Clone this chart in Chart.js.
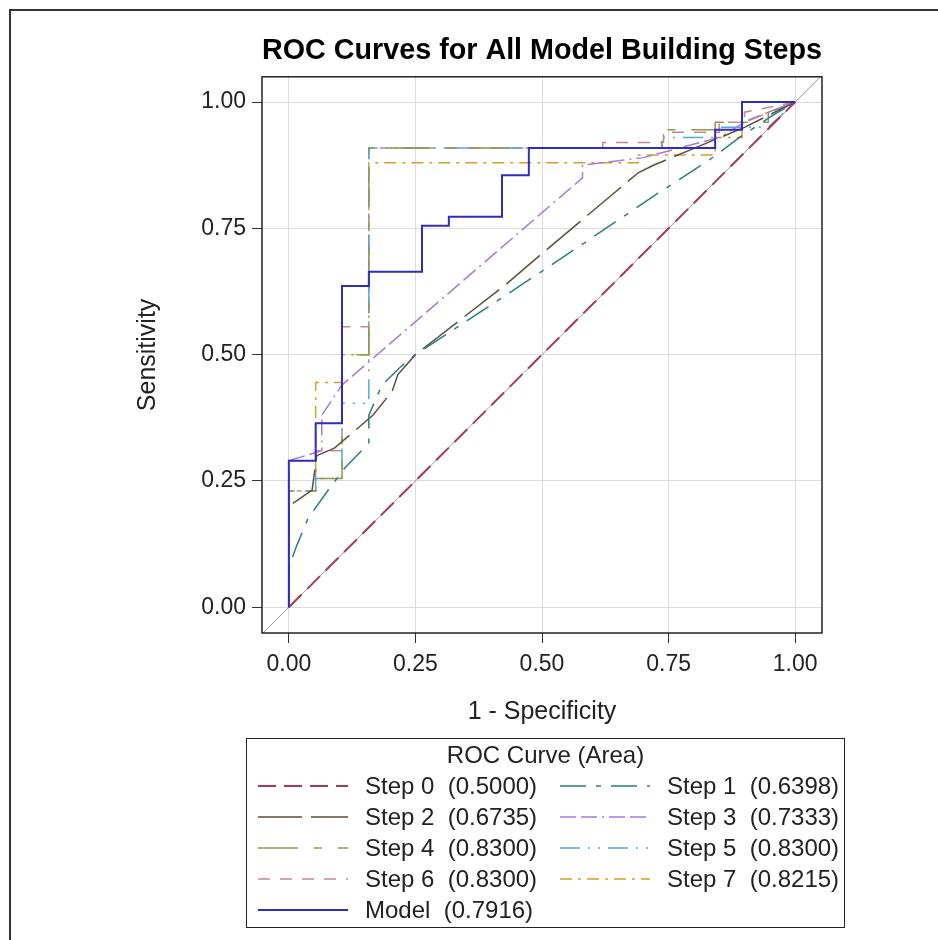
<!DOCTYPE html>
<html>
<head>
<meta charset="utf-8">
<script src="https://cdn.jsdelivr.net/npm/chart.js@4.4.1/dist/chart.umd.min.js"></script>
<style>
    html, body { margin: 0; padding: 0; background: #fff; }
    body { width: 938px; height: 940px; position: relative; overflow: hidden; font-family: "Liberation Sans", Arial, sans-serif; color: #222; }
    #frame { position: absolute; left: 9px; top: 9px; width: 980px; height: 980px; border-left: 2px solid #333; border-top: 2px solid #333; }
    #rocChart { position: absolute; left: 0; top: 0; }
    #legend { position: absolute; left: 246px; top: 738px; width: 599px; height: 190px; box-sizing: border-box; border: 1.5px solid #222; padding: 1px 0 0 11px; font-size: 24px; }
    #legend .title { height: 30px; line-height: 30px; text-align: center; margin-left: -11px; }
    #legend .items { display: grid; grid-template-columns: 302px 280px; grid-auto-rows: 31px; }
    #legend .item { display: flex; align-items: center; white-space: pre; }
    #legend svg { margin-right: 17px; flex: none; }
</style>
</head>
<body>
<div id="frame"></div>
<canvas id="rocChart" width="938" height="740"></canvas>
<div id="legend"></div>
<script>
// tick values
const xTicks = [0, 0.25, 0.5, 0.75, 1];
const yTicks = [0, 0.25, 0.5, 0.75, 1];

// chance diagonal across the whole plot
const refLine = [[-0.06, -0.06], [1.06, 1.06]];

// ROC points [1 - specificity, sensitivity]
const step0 = [[0, 0], [1, 1]];
const step1 = [[0, 0], [0, 0.08], [0.016, 0.123], [0.038, 0.176], [0.075, 0.228], [0.11, 0.275], [0.158, 0.325], [0.158, 0.38], [0.184, 0.44], [0.22, 0.475], [0.25, 0.5], [0.5, 0.665], [0.73, 0.82], [0.83, 0.885], [0.89, 0.93], [0.95, 0.97], [1, 1]];
const step2 = [[0, 0], [0, 0.2], [0.046, 0.232], [0.055, 0.3], [0.09, 0.315], [0.166, 0.38], [0.19, 0.41], [0.205, 0.43], [0.215, 0.46], [0.25, 0.5], [0.43, 0.64], [0.5, 0.7], [0.69, 0.86], [0.72, 0.875], [0.78, 0.9], [0.9, 0.95], [1, 1]];
const step3 = [[0, 0], [0, 0.29], [0.065, 0.31], [0.065, 0.38], [0.105, 0.44], [0.58, 0.85], [0.58, 0.875], [0.7, 0.89], [0.85, 0.93], [0.9, 0.96], [1, 1]];
const step4 = [[0, 0], [0, 0.23], [0.053, 0.23], [0.053, 0.255], [0.105, 0.255], [0.105, 0.5], [0.158, 0.5], [0.158, 0.909], [0.737, 0.909], [0.737, 0.945], [0.842, 0.945], [0.842, 0.96], [0.947, 0.96], [0.947, 0.98], [1, 1]];
const step5 = [[0, 0], [0, 0.23], [0.053, 0.23], [0.053, 0.255], [0.105, 0.255], [0.105, 0.404], [0.158, 0.404], [0.158, 0.909], [0.737, 0.909], [0.737, 0.93], [0.842, 0.93], [0.842, 0.95], [0.947, 0.95], [1, 1]];
const step6 = [[0, 0], [0, 0.23], [0.053, 0.23], [0.053, 0.31], [0.105, 0.31], [0.105, 0.555], [0.158, 0.555], [0.158, 0.909], [0.62, 0.909], [0.62, 0.92], [0.74, 0.92], [0.74, 0.94], [0.85, 0.94], [0.85, 0.96], [0.9, 0.96], [0.9, 0.98], [1, 1]];
const step7 = [[0, 0], [0, 0.23], [0.053, 0.23], [0.053, 0.445], [0.105, 0.445], [0.105, 0.5], [0.158, 0.5], [0.158, 0.88], [0.69, 0.88], [0.69, 0.895], [0.842, 0.895], [0.842, 0.93], [0.895, 0.93], [0.895, 0.96], [1, 1]];
const model = [[0, 0], [0, 0.29], [0.053, 0.29], [0.053, 0.364], [0.105, 0.364], [0.105, 0.636], [0.158, 0.636], [0.158, 0.664], [0.263, 0.664], [0.263, 0.755], [0.316, 0.755], [0.316, 0.773], [0.421, 0.773], [0.421, 0.855], [0.474, 0.855], [0.474, 0.909], [0.842, 0.909], [0.842, 0.945], [0.895, 0.945], [0.895, 1], [1, 1]];

const curves = [step0, step1, step2, step3, step4, step5, step6, step7, model];
const curveNames = ["Step 0", "Step 1", "Step 2", "Step 3", "Step 4", "Step 5", "Step 6", "Step 7", "Model"];
const curveAreas = ["0.5000", "0.6398", "0.6735", "0.7333", "0.8300", "0.8300", "0.8300", "0.8215", "0.7916"];

// styles
const curveColors = ["#A83A50", "#2A7F82", "#5E4F3A", "#A57BE2", "#8E9A4C", "#4FA8E2", "#C4898E", "#D6A020", "#2C2CC6"];
const curveDashes = [[18, 8], [26, 10, 5, 10], [44, 9], [16, 5, 16, 5, 2, 5], [40, 16, 8, 16], [20, 8, 2, 8, 2, 8], [12, 10], [12, 6, 3, 6], []];
const curveWidths = [2, 1.5, 1.5, 1.5, 1.5, 1.5, 1.5, 1.5, 2];

const toXY = pts => pts.map(p => ({ x: p[0], y: p[1] }));

// model drawn on top, grey diagonal at the bottom
const datasets = curves.map((pts, i) => ({
    label: curveNames[i],
    data: toXY(pts),
    borderColor: curveColors[i],
    borderDash: curveDashes[i],
    borderWidth: curveWidths[i],
    order: i === curves.length - 1 ? 0 : i + 1
}));
datasets.push({
    label: "ref",
    data: toXY(refLine),
    borderColor: "#9a9a9a",
    borderWidth: 1,
    order: 50
});

Chart.defaults.font.family = '"Liberation Sans", Arial, sans-serif';
Chart.defaults.color = "#222";

// box around the plot area
const plotFrame = {
    id: "plotFrame",
    afterDatasetsDraw(chart) {
        const { ctx, chartArea } = chart;
        ctx.save();
        ctx.strokeStyle = "#222";
        ctx.lineWidth = 1.5;
        ctx.strokeRect(chartArea.left, chartArea.top, chartArea.right - chartArea.left, chartArea.bottom - chartArea.top);
        ctx.restore();
    }
};

new Chart(document.getElementById("rocChart"), {
    type: "scatter",
    data: { datasets: datasets },
    options: {
        responsive: false,
        animation: false,
        showLine: true,
        elements: {
            point: { radius: 0, hoverRadius: 0 },
            line: { tension: 0, fill: false }
        },
        layout: { padding: { left: 120, right: 116, top: 0, bottom: 0 } },
        plugins: {
            legend: { display: false },
            tooltip: { enabled: false },
            title: {
                display: true,
                text: "ROC Curves for All Model Building Steps",
                fullSize: false,
                color: "#000",
                font: { size: 29, weight: "bold" },
                padding: { top: 34, bottom: 8 }
            }
        },
        scales: {
            x: {
                type: "linear",
                min: -0.053,
                max: 1.053,
                afterBuildTicks: s => { s.ticks = xTicks.map(v => ({ value: v })); },
                afterFit: s => { s.height = 107; },
                ticks: { font: { size: 23 }, padding: 8, maxRotation: 0, autoSkip: false, callback: v => v.toFixed(2) },
                grid: { color: "#dcdcdc", tickColor: "#333", tickLength: 10 },
                border: { display: false },
                title: { display: true, text: "1 - Specificity", font: { size: 25 }, padding: { top: 0, bottom: 13 } }
            },
            y: {
                type: "linear",
                min: -0.051,
                max: 1.05,
                afterBuildTicks: s => { s.ticks = yTicks.map(v => ({ value: v })); },
                afterFit: s => { s.width = 142; },
                ticks: { font: { size: 23 }, padding: 6, autoSkip: false, callback: v => v.toFixed(2) },
                grid: { color: "#dcdcdc", tickColor: "#333", tickLength: 10 },
                border: { display: false },
                title: { display: true, text: "Sensitivity", font: { size: 25 }, padding: { top: 13, bottom: 0 } }
            }
        }
    },
    plugins: [plotFrame]
});

// legend box below the plot
function buildLegend() {
    const box = document.getElementById("legend");
    let html = '<div class="title">ROC Curve (Area)</div><div class="items">';
    curves.forEach((pts, i) => {
        html += '<div class="item"><svg width="90" height="10"><line x1="0" y1="5" x2="90" y2="5" stroke="' + curveColors[i] +
            '" stroke-width="' + curveWidths[i] + '" stroke-dasharray="' + (curveDashes[i].length ? curveDashes[i].join(" ") : "none") +
            '"/></svg>' + curveNames[i] + "  (" + curveAreas[i] + ")</div>";
    });
    html += "</div>";
    box.innerHTML = html;
}
buildLegend();
</script>
</body>
</html>
